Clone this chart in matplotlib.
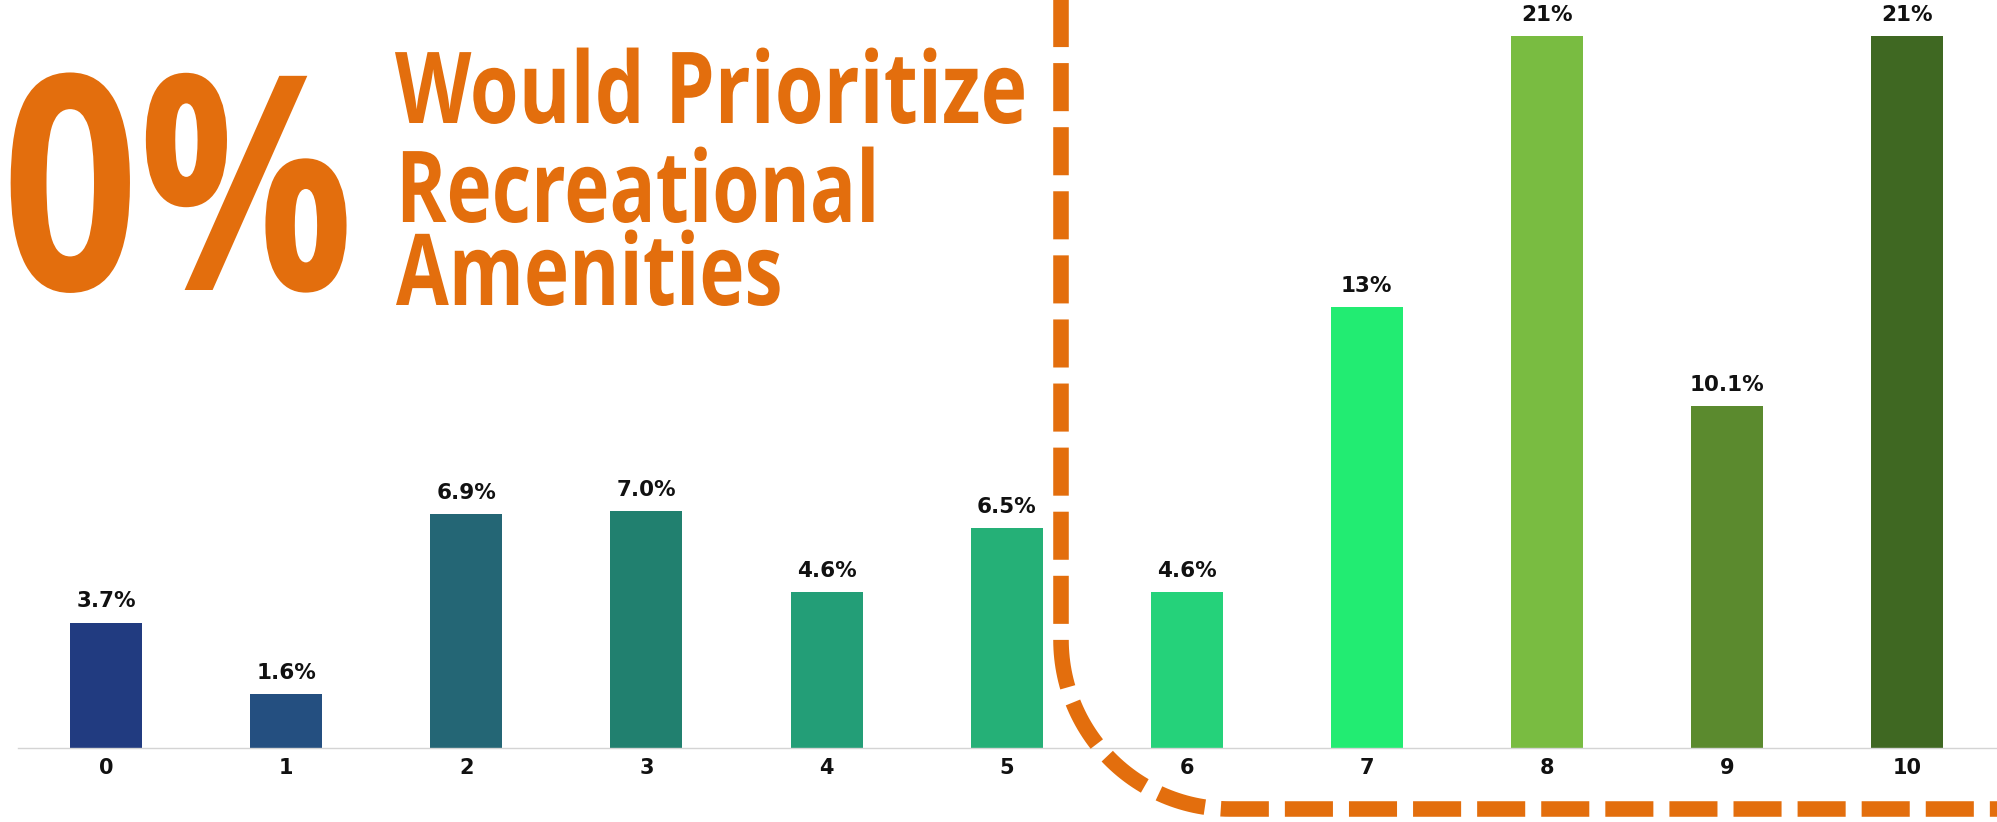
import numpy as np
import matplotlib
matplotlib.use("Agg")
import matplotlib.pyplot as plt
from matplotlib import patheffects
from matplotlib.transforms import Affine2D

scores = [0, 1, 2, 3, 4, 5, 6, 7, 8, 9, 10]
shares = [3.7, 1.6, 6.9, 7.0, 4.6, 6.5, 4.6, 13, 21, 10.1, 21]
shareLabels = ["3.7%", "1.6%", "6.9%", "7.0%", "4.6%", "6.5%", "4.6%", "13%", "21%", "10.1%", "21%"]
barColors = ["#213B80", "#244F80", "#246675", "#21806F", "#239E77", "#25B077",
             "#25D27A", "#22EC72", "#79BC41", "#5B8A2E", "#3F6822"]

headline = "0%"
headlineLines = ["Would Prioritize", "Recreational\nAmenities"]

orange = "#E36E0D"
W, H = 1997, 822


class Squeeze(patheffects.AbstractPathEffect):
	"""Squash glyph outlines horizontally around the text anchor (condensed look)."""

	def __init__(self, text, sx):
		super().__init__()
		self.text = text
		self.sx = sx

	def draw_path(self, renderer, gc, tpath, affine, rgbFace=None):
		x0 = self.text.get_transform().transform(self.text.get_position())[0]
		squash = Affine2D().translate(-x0, 0).scale(self.sx, 1).translate(x0, 0)
		renderer.draw_path(gc, tpath, affine + squash, rgbFace)


def condensed(ax, x, y, s, size, targetWidth, lineGap=None):
	# y is the baseline of the last line
	t = ax.text(x, y, s, fontsize=size, fontweight="bold", color=orange,
				family=["Open Sans", "DejaVu Sans"], ha="left", va="baseline")
	renderer = ax.figure.canvas.get_renderer()
	if lineGap is not None:
		# baseline-to-baseline distance in pixels for the stacked lines:
		# matplotlib puts descent + ascent * linespacing between baselines
		prop = t.get_fontproperties()
		asc, desc = 0, 0
		for part in ["lp"] + s.split("\n"):
			_, h, d = renderer.get_text_width_height_descent(part, prop, ismath=False)
			asc = max(asc, h - d)
			desc = max(desc, d)
		t.set_linespacing((lineGap - desc) / asc)
	width = t.get_window_extent(renderer).width
	t.set_path_effects([Squeeze(t, targetWidth / width)])
	return t


fig = plt.figure(figsize=(W / 100, H / 100), dpi=100)
fig.patch.set_facecolor("white")

# bar chart area: baseline at y=748px, one score step = 180px
ax = fig.add_axes([18 / W, 74 / H, 1979 / W, 748 / H])
ax.bar(scores, shares, width=0.4, color=barColors, zorder=2)
ax.set_xlim(-0.49, 10.5)
ax.set_ylim(0, 22.07)
for spine in ["top", "right", "left"]:
	ax.spines[spine].set_visible(False)
ax.spines["bottom"].set_color("#D4D4D4")
ax.spines["bottom"].set_linewidth(1.0)
ax.set_yticks([])
ax.set_xticks(scores)
ax.set_xticklabels([str(s) for s in scores], fontsize=15, fontweight="bold", color="#111111")
ax.tick_params(axis="x", length=0, pad=7)

for x, v, lab in zip(scores, shares, shareLabels):
	ax.annotate(lab, (x, v), xytext=(0, 8), textcoords="offset points",
				ha="center", va="bottom", fontsize=15.5, fontweight="bold", color="#111111")

# overlay in pixel coordinates for the headline and the dashed frame
over = fig.add_axes([0, 0, 1, 1], zorder=3)
over.set_xlim(0, W)
over.set_ylim(H, 0)
over.axis("off")
over.patch.set_alpha(0)

condensed(over, 2, 290, headline, 216, 352)
condensed(over, 395, 123, headlineLines[0], 71.5, 632)
condensed(over, 396, 305, headlineLines[1], 71.5, 483, lineGap=83)

# dashed line: straight down, rounded corner, then across to the right edge
xv, yh, r = 1061, 809, 169
theta = np.linspace(np.pi, np.pi / 2, 60)
arcX = xv + r + r * np.cos(theta)
arcY = yh - r + r * np.sin(theta)
pathX = np.concatenate([[xv], arcX, [W + 40]])
pathY = np.concatenate([[-42], arcY, [yh]])
over.plot(pathX, pathY, color=orange, linewidth=11.2, dash_capstyle="butt",
		  linestyle=(0, (3.09, 1.03)))

fig.savefig("out.png", dpi=100, facecolor="white")
